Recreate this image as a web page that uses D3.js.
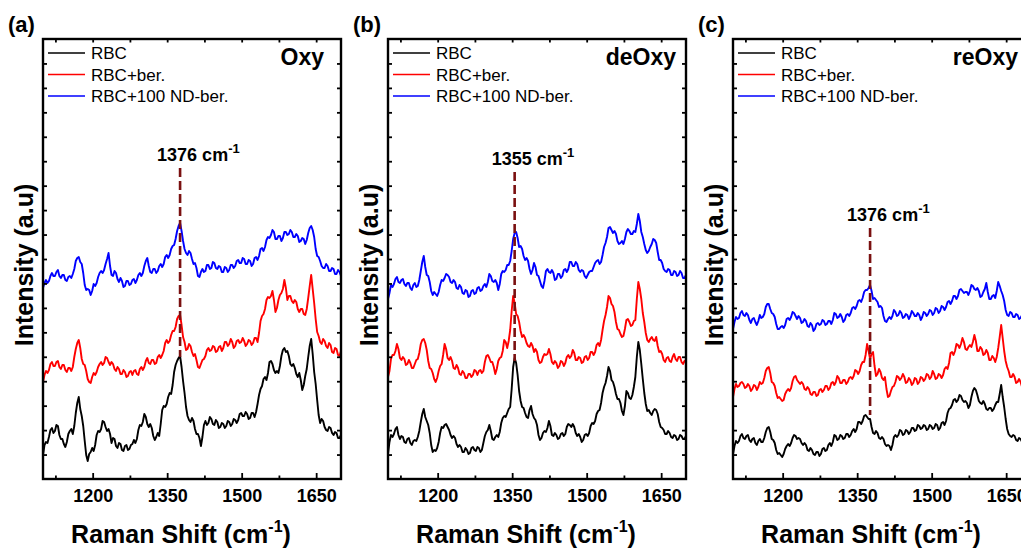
<!DOCTYPE html>
<html>
<head>
<meta charset="utf-8">
<script src="https://d3js.org/d3.v7.min.js"></script>
<style>
  html, body { margin: 0; padding: 0; background: #fff; }
  svg { display: block; }
</style>
</head>
<body>
<div id="chart"></div>
<script>
// Raman spectra of RBC samples in three oxygenation states.
// Intensities are in arbitrary units (height above the frame bottom).

const shift = d3.range(1100, 1701, 3);           // Raman shift grid, cm-1

const panelTags    = ["(a)", "(b)", "(c)"];
const panelStates  = ["Oxy", "deOxy", "reOxy"];
const seriesNames  = ["RBC", "RBC+ber.", "RBC+100 ND-ber."];
const seriesColors = ["#000000", "#ff0000", "#0000ff"];
const markerShift  = [1376, 1355, 1376];
const markerText   = ["1376 cm", "1355 cm", "1376 cm"];
const markerTop    = [311, 307, 251];
const markerBottom = [122, 118, 64];
const xTicks = [1200, 1350, 1500, 1650];
const xMinor = [1125, 1275, 1425, 1575];

// (a) Oxy
const oxyRBC = [
  24,34,37,36,42,49,51,46,48,54,53,44,40,40,35,32,37,45,48,50,
  45,53,66,76,82,70,63,53,38,24,18,25,27,31,28,34,44,48,47,50,
  58,57,52,48,50,45,36,41,40,33,31,36,35,29,28,33,34,29,30,34,
  35,39,36,40,49,54,53,57,65,62,55,52,55,51,43,39,42,46,43,55,
  69,73,72,75,82,86,85,94,107,114,118,121,123,112,98,86,72,63,59,57,
  61,58,50,45,45,41,33,42,54,58,54,56,62,60,55,54,59,57,51,52,
  56,55,51,53,58,57,53,55,60,59,56,59,65,66,63,63,67,65,60,61,
  66,66,62,67,75,84,90,93,100,102,99,106,117,118,115,109,106,108,106,113,
  123,129,131,127,128,123,115,113,115,111,105,102,106,99,89,94,103,110,122,133,
  140,125,107,95,79,64,56,60,58,52,49,48,52,51,46,44,47,46,41,41,44];
const oxyBer = [
  97,104,108,106,109,115,117,113,113,117,118,112,110,114,114,109,107,111,111,108,
  112,122,130,136,139,131,120,115,114,108,100,97,96,102,106,104,107,112,115,117,
  114,116,122,121,117,114,117,115,110,108,112,110,105,105,109,107,102,103,107,108,
  104,108,109,105,104,110,112,109,112,118,121,116,115,119,119,115,116,122,124,121,
  124,128,136,139,136,138,144,148,148,152,160,163,164,154,142,137,129,130,135,133,
  127,123,125,119,112,111,115,119,120,123,129,131,128,129,133,132,127,128,132,133,
  128,131,137,137,133,135,140,137,131,133,138,139,136,137,141,138,133,135,139,138,
  134,136,141,141,137,146,158,163,165,170,179,182,181,183,188,179,167,171,179,184,
  186,190,199,191,179,183,183,178,176,179,177,170,167,170,170,165,164,170,181,193,
  204,190,176,160,147,143,137,135,140,138,133,131,136,134,127,126,131,130,124,123,128];
const oxyND = [
  191,196,199,196,198,203,206,203,203,207,209,203,201,204,204,199,198,202,203,201,
  205,210,218,221,222,217,215,206,194,189,190,189,184,188,195,193,196,202,206,208,
  206,209,215,220,226,213,204,203,208,206,200,197,201,198,192,193,198,198,194,195,
  199,200,196,199,204,206,203,206,213,218,221,213,207,206,210,210,206,208,213,215,
  212,215,222,224,221,224,230,233,234,240,248,253,256,248,238,230,226,224,228,226,
  220,215,216,211,203,202,207,210,207,208,214,214,210,211,217,216,211,210,213,212,
  207,207,212,211,207,209,214,214,211,213,218,219,216,216,221,220,215,215,219,218,
  213,215,221,222,219,223,230,231,228,232,239,242,241,244,249,247,240,240,243,243,
  238,241,247,247,244,245,249,247,242,242,245,243,237,238,241,240,235,239,246,251,
  253,249,242,230,223,222,218,213,211,211,215,213,208,208,211,210,205,205,209,207,203];

// (b) deOxy
const deoxyRBC = [
  25,37,44,42,45,50,52,44,40,43,42,37,36,40,41,36,34,38,39,38,
  42,48,57,65,70,62,58,54,46,34,27,29,28,31,37,46,52,51,54,55,
  52,49,44,41,43,41,35,32,34,32,27,27,31,29,25,26,31,32,29,28,
  32,31,27,29,36,43,47,49,54,48,40,39,42,44,42,47,56,61,63,62,
  66,70,72,90,112,121,116,104,88,78,72,71,66,62,61,69,73,65,61,59,
  54,44,39,41,46,48,47,51,58,53,44,43,46,44,40,41,45,46,43,45,
  52,55,54,52,55,52,46,43,45,42,37,39,44,45,43,46,53,56,55,58,
  65,68,69,76,86,92,96,103,112,108,99,97,92,85,80,80,76,68,64,73,
  88,86,81,80,84,92,102,122,137,129,115,100,86,75,68,69,66,64,68,70,
  69,65,57,52,51,49,45,45,48,46,42,41,44,43,39,40,44,43,40,40,43];
const deoxyBer = [
  102,108,120,124,124,128,135,130,121,119,122,120,114,115,119,116,111,111,115,119,
  120,126,135,139,140,136,129,118,111,110,106,100,97,101,108,113,115,124,135,130,
  121,119,122,118,111,110,114,111,105,104,108,106,101,101,105,105,102,104,109,108,
  104,108,109,106,108,117,123,124,121,117,117,112,105,110,118,121,122,128,139,137,
  131,138,149,168,183,176,165,163,157,148,142,144,141,136,133,132,136,133,127,130,
  127,119,116,117,122,125,124,125,130,125,117,115,118,116,111,113,118,117,113,116,
  122,124,121,123,129,126,119,119,122,121,116,117,122,123,119,121,127,127,124,127,
  134,136,133,139,149,158,164,172,183,181,175,173,167,157,150,149,145,142,143,150,
  159,160,157,153,154,158,159,180,197,190,180,166,157,146,139,137,140,142,139,138,
  142,133,127,128,125,119,117,121,122,118,117,122,125,120,118,122,122,117,115,118,119];
const deoxyND = [
  180,186,194,192,195,200,202,197,196,199,200,195,193,196,196,191,189,194,196,192,
  193,199,208,217,223,212,204,203,197,188,184,187,185,183,187,194,199,198,201,205,
  204,202,197,196,199,197,191,190,194,192,186,185,189,188,182,183,188,189,185,186,
  191,192,188,189,193,195,192,197,205,203,198,197,199,196,189,195,205,208,207,209,
  214,214,218,228,240,246,247,241,232,233,230,223,219,221,218,210,205,209,216,212,
  204,203,198,193,191,198,208,210,207,206,209,206,199,200,205,205,201,203,209,210,
  207,210,217,217,213,213,217,215,209,207,209,208,203,201,204,207,208,208,212,216,
  218,219,215,217,224,232,236,242,251,252,249,246,248,245,238,235,236,238,235,240,
  247,250,248,245,245,248,247,255,265,258,247,242,235,229,226,228,232,235,240,239,
  236,227,219,219,216,210,208,207,210,209,204,204,208,207,203,204,208,206,201,201,204];

// (c) reOxy
const reoxyRBC = [
  25,33,38,36,38,43,45,41,40,43,44,39,37,40,41,36,34,38,40,37,
  37,41,47,51,52,47,40,39,36,29,25,26,24,22,25,30,33,35,33,36,
  41,44,43,40,41,40,36,34,36,34,29,28,31,29,25,24,27,27,23,25,
  30,31,28,29,34,36,33,37,44,43,39,40,44,43,40,41,45,45,42,44,
  48,50,47,50,57,57,55,58,63,64,62,60,60,52,46,45,48,46,41,40,
  42,40,35,33,34,33,29,34,42,44,42,44,49,48,44,45,49,48,45,47,
  51,51,48,49,54,53,50,51,54,53,49,50,54,53,50,51,55,54,49,51,
  56,57,54,58,66,70,71,74,79,80,77,79,84,83,79,77,78,76,71,74,
  82,88,91,89,84,78,76,75,78,75,70,69,71,71,68,70,74,77,77,85,
  94,82,72,60,50,45,43,42,44,43,39,38,41,40,37,38,41,40,37,37,40];
const reoxyBer = [
  82,90,95,92,93,96,97,95,91,92,95,93,88,90,94,93,89,92,97,95,
  96,101,108,111,112,106,97,96,93,86,81,82,80,78,79,85,88,90,88,91,
  98,102,103,99,97,95,97,95,90,89,92,90,85,84,87,87,83,84,89,90,
  87,89,93,93,89,91,96,97,94,97,103,101,96,96,99,99,95,97,101,102,
  100,103,109,108,105,108,114,117,117,124,135,128,120,125,127,113,103,105,110,107,
  101,99,102,90,82,83,88,92,93,97,103,102,99,101,105,102,96,97,101,99,
  94,96,101,100,95,97,102,101,98,100,105,104,100,102,108,105,100,101,105,104,
  101,104,110,112,110,116,126,127,124,128,135,134,131,135,141,137,130,129,132,134,
  132,137,144,138,128,128,132,130,124,125,129,126,119,119,123,121,117,122,131,142,
  154,141,128,118,112,108,102,102,105,102,96,97,100,97,92,94,98,95,91,92,96];
const reoxyND = [
  150,157,162,160,161,166,168,164,163,166,164,159,156,160,161,157,154,158,164,161,
  162,165,172,175,175,170,166,165,162,155,150,150,152,153,151,154,160,161,159,162,
  167,166,163,160,163,161,156,157,160,158,153,152,156,154,148,150,155,156,154,155,
  159,158,154,155,158,158,155,159,166,165,161,162,165,162,157,159,164,165,163,166,
  171,172,170,173,178,179,177,181,187,189,189,191,194,188,180,181,179,177,172,173,
  171,163,158,157,160,162,160,163,169,167,163,164,168,166,161,162,165,164,160,163,
  168,166,163,163,166,164,159,162,167,166,163,165,169,168,164,166,171,170,166,168,
  173,172,169,172,177,178,175,178,183,183,180,183,189,190,188,186,187,187,184,188,
  194,193,190,189,191,188,182,183,187,190,196,187,180,180,183,184,181,188,197,193,
  188,184,178,169,164,163,167,166,162,162,165,164,160,161,164,163,160,163,160,163,161];

const panelSeries = [
  [oxyRBC, oxyBer, oxyND],
  [deoxyRBC, deoxyBer, deoxyND],
  [reoxyRBC, reoxyBer, reoxyND],
];

const W = 1021, H = 550;
const FONT = "'Liberation Sans', Arial, Helvetica, sans-serif";
const lefts = [43, 388, 733];
const plotTop = 39, pw = 298, ph = 440;
const titleInset = [17, 10, 13];

const svg = d3.select("#chart").append("svg")
  .attr("width", W).attr("height", H)
  .attr("viewBox", `0 0 ${W} ${H}`);

const x = d3.scaleLinear().domain([1100, 1700]).range([0, pw]);
const y = d3.scaleLinear().domain([0, 440]).range([ph, 0]);
const yTicks = d3.range(1, 18).map(k => k * 440 / 18);

const line = d3.line()
  .x((d, i) => x(shift[i]))
  .y(d => y(d));

function styleAxis(ax) {
  ax.select(".domain").remove();
  ax.selectAll(".tick line").attr("stroke", "#000").attr("stroke-width", 1.8);
}

panelSeries.forEach((series, k) => {
  const g = svg.append("g").attr("transform", `translate(${lefts[k]},${plotTop})`);

  // spectra
  series.forEach((s, j) => {
    g.append("path")
      .datum(s)
      .attr("d", line)
      .attr("fill", "none")
      .attr("stroke", seriesColors[j])
      .attr("stroke-width", 1.9)
      .attr("stroke-linejoin", "round");
  });

  // peak marker
  const mx = x(markerShift[k]);
  g.append("line")
    .attr("x1", mx).attr("x2", mx)
    .attr("y1", y(markerTop[k])).attr("y2", y(markerBottom[k]))
    .attr("stroke", "#7a1010")
    .attr("stroke-width", 2.6)
    .attr("stroke-dasharray", "9,4");

  const mt = g.append("text")
    .attr("x", mx - 23)
    .attr("y", y(markerTop[k]) - 7)
    .attr("font-family", FONT)
    .attr("font-size", "18px")
    .attr("font-weight", "bold")
    .attr("fill", "#000");
  mt.append("tspan").text(markerText[k]);
  mt.append("tspan").attr("dy", -8).attr("font-size", "13px").text("-1");

  // axes: ticks point inward, labels only on the bottom
  const bottom = g.append("g").attr("transform", `translate(0,${ph})`)
    .call(d3.axisBottom(x).tickValues(xTicks).tickFormat(d3.format("d"))
      .tickSizeInner(-6).tickSizeOuter(0).tickPadding(10));
  styleAxis(bottom);
  bottom.selectAll("text")
    .attr("font-family", FONT)
    .attr("font-size", "18px")
    .attr("font-weight", "bold")
    .attr("fill", "#000");

  const bottomMinor = g.append("g").attr("transform", `translate(0,${ph})`)
    .call(d3.axisBottom(x).tickValues(xMinor).tickSizeInner(-3.5).tickSizeOuter(0).tickFormat(""));
  styleAxis(bottomMinor);

  const topAx = g.append("g")
    .call(d3.axisTop(x).tickValues(xTicks.concat(xMinor)).tickSizeInner(-3.5).tickSizeOuter(0).tickFormat(""));
  styleAxis(topAx);

  const leftAx = g.append("g")
    .call(d3.axisLeft(y).tickValues(yTicks).tickSizeInner(-4).tickSizeOuter(0).tickFormat(""));
  styleAxis(leftAx);

  const rightAx = g.append("g").attr("transform", `translate(${pw},0)`)
    .call(d3.axisRight(y).tickValues(yTicks).tickSizeInner(-4).tickSizeOuter(0).tickFormat(""));
  styleAxis(rightAx);

  // frame
  g.append("rect")
    .attr("x", 0).attr("y", 0)
    .attr("width", pw).attr("height", ph)
    .attr("fill", "none")
    .attr("stroke", "#000")
    .attr("stroke-width", 2.4);

  // legend
  seriesNames.forEach((name, j) => {
    const ly = 14 + j * 21.5;
    g.append("line")
      .attr("x1", 5).attr("x2", 42)
      .attr("y1", ly).attr("y2", ly)
      .attr("stroke", seriesColors[j])
      .attr("stroke-width", 1.4);
    g.append("text")
      .attr("x", 48).attr("y", ly + 6)
      .attr("font-family", FONT)
      .attr("font-size", "17px")
      .attr("fill", "#000")
      .text(name);
  });

  // state title
  g.append("text")
    .attr("x", pw - titleInset[k]).attr("y", 26)
    .attr("text-anchor", "end")
    .attr("font-family", FONT)
    .attr("font-size", "23px")
    .attr("font-weight", "bold")
    .text(panelStates[k]);

  // panel tag
  svg.append("text")
    .attr("x", lefts[k] - 35).attr("y", 32)
    .attr("font-family", FONT)
    .attr("font-size", "22px")
    .attr("font-weight", "bold")
    .text(panelTags[k]);

  // y axis title
  svg.append("text")
    .attr("transform", `translate(${lefts[k] - 10},265) rotate(-90)`)
    .attr("text-anchor", "middle")
    .attr("font-family", FONT)
    .attr("font-size", "25px")
    .attr("font-weight", "bold")
    .text("Intensity (a.u)");

  // x axis title
  const xt = svg.append("text")
    .attr("x", lefts[k] + pw / 2 - 11).attr("y", 543)
    .attr("text-anchor", "middle")
    .attr("font-family", FONT)
    .attr("font-size", "25px")
    .attr("font-weight", "bold");
  xt.append("tspan").text("Raman Shift (cm");
  xt.append("tspan").attr("dy", -11).attr("font-size", "16px").text("-1");
  xt.append("tspan").attr("dy", 11).text(")");
});
</script>
</body>
</html>
